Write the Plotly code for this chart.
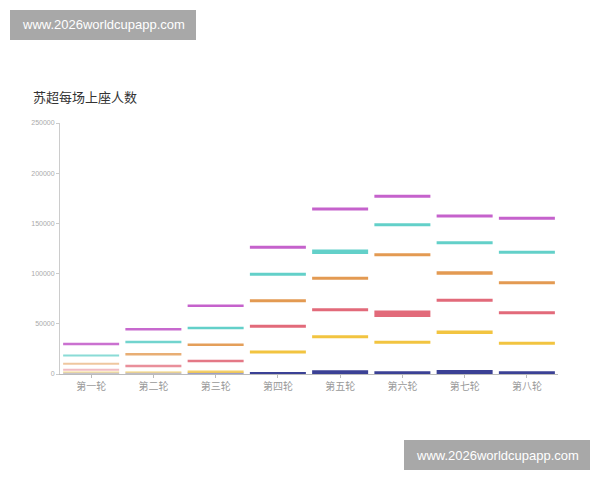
import plotly.graph_objects as go

rounds = ["第一轮", "第二轮", "第三轮", "第四轮", "第五轮", "第六轮", "第七轮", "第八轮"]

# cumulative (stacked) attendance levels per series
navy   = [500, 500, 500, 700, 1700, 1300, 2000, 1300]
yellow = [1700, 1700, 2300, 21900, 37200, 31600, 41500, 30600]
red    = [4300, 8000, 13000, 47500, 64000, 60000, 73400, 61100]
orange = [10300, 19600, 29200, 73000, 95300, 118800, 100600, 90900]
cyan   = [18500, 31900, 45800, 99300, 121800, 148700, 130800, 121200]
purple = [29800, 44500, 68000, 126200, 164300, 177000, 157400, 155100]

yticks = [0, 50000, 100000, 150000, 200000, 250000]

# (values, colour, line widths per round, opacity per round)
series = [
    (navy,   "#3b4195", [2, 2, 2, 2.5, 4, 3, 4, 3], [0.3, 0.35, 0.5, 1, 1, 1, 1, 1]),
    (yellow, "#f2c440", [2, 2, 2.5, 3, 3, 3, 3.5, 3], [0.4, 0.5, 0.8, 1, 1, 1, 1, 1]),
    (red,    "#e26a7a", [2, 2.5, 2.5, 3, 3, 6.5, 3, 3], [0.45, 0.75, 0.9, 1, 1, 1, 1, 1]),
    (orange, "#e39a52", [2, 2.5, 2.5, 3, 3, 3, 3.5, 3], [0.55, 0.8, 0.95, 1, 1, 1, 1, 1]),
    (cyan,   "#63d0c9", [2, 2.5, 2.5, 3, 4.5, 3, 3, 3], [0.75, 0.9, 1, 1, 1, 1, 1, 1]),
    (purple, "#c562cc", [2.5, 2.5, 2.5, 3, 3, 3, 3, 3], [0.9, 0.95, 1, 1, 1, 1, 1, 1]),
]

fig = go.Figure()
for vals, col, widths, ops in series:
    fig.add_trace(go.Scatter(
        x=rounds, y=vals, mode="markers",
        marker=dict(symbol="line-ew", size=40, opacity=ops,
                    line=dict(color=col, width=widths)),
        hoverinfo="skip", showlegend=False,
    ))

OFF = 8  # page body margin
W, H = 600, 480
L, R, T, B = 60 - OFF, 50, 123 - OFF, 114
pw, ph = W - L - R, H - T - B

def px(x):
    return (x - OFF - L) / pw

def py(y):
    return (H - B - (y - OFF)) / ph

shapes = []
annotations = []
for (x0, y0, x1, y1) in [(10, 10, 196, 40), (404, 440, 590, 470)]:
    shapes.append(dict(type="rect", xref="paper", yref="paper",
                       x0=px(x0), x1=px(x1), y0=py(y1), y1=py(y0),
                       fillcolor="#a8a8a8", line=dict(width=0), layer="above"))
    annotations.append(dict(text="www.2026worldcupapp.com", xref="paper", yref="paper",
                            x=px((x0 + x1) / 2), y=py((y0 + y1) / 2),
                            xanchor="center", yanchor="middle", showarrow=False,
                            font=dict(family="Liberation Sans", size=13, color="white")))

annotations.append(dict(text="苏超每场上座人数", xref="paper", yref="paper",
                        x=px(31), y=py(96), xanchor="left", yanchor="middle",
                        showarrow=False,
                        font=dict(family="Noto Sans CJK SC", size=13, color="#333333")))

fig.update_layout(
    width=W, height=H,
    margin=dict(l=L, r=R, t=T, b=B),
    paper_bgcolor="white", plot_bgcolor="white",
    shapes=shapes, annotations=annotations,
    xaxis=dict(type="category", range=[-0.5, 7.5], showgrid=False,
               showline=True, linecolor="#bbbbbb", linewidth=1,
               ticks="outside", ticklen=3, tickcolor="#bbbbbb",
               tickfont=dict(family="Noto Sans CJK SC", size=10, color="#999999"),
               zeroline=False),
    yaxis=dict(range=[0, 250000], tickvals=yticks,
               ticktext=[str(v) for v in yticks], showgrid=False,
               showline=True, linecolor="#cccccc", linewidth=1,
               ticks="outside", ticklen=3, tickcolor="#cccccc",
               tickfont=dict(family="Liberation Sans", size=7, color="#aaaaaa"),
               zeroline=False),
)

fig.write_html("out.html")
